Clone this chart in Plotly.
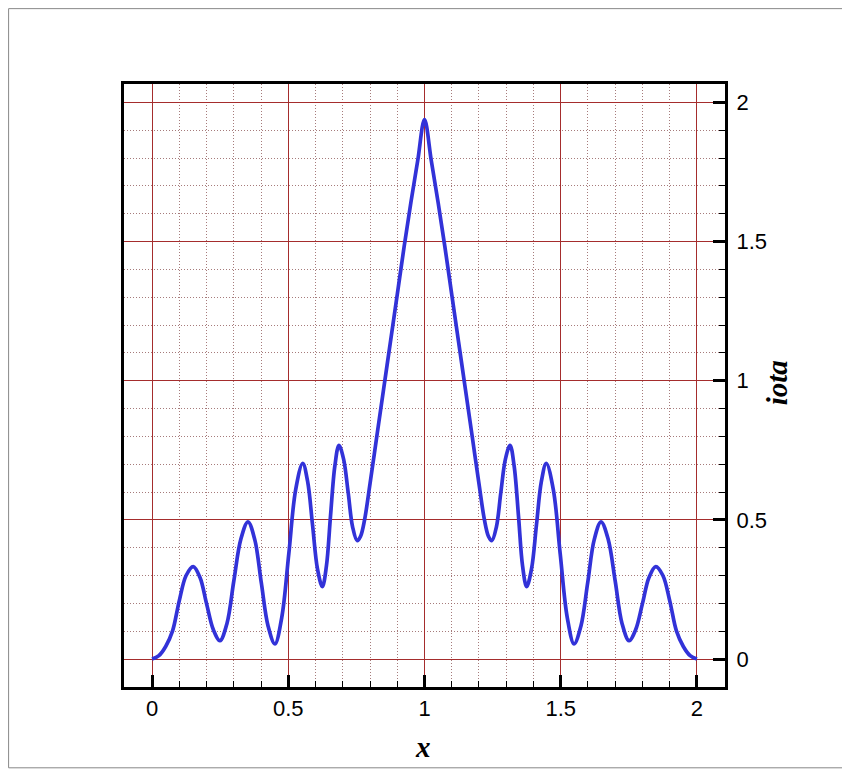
import plotly.graph_objects as go

# curve (x, iota)
x_vals = [
    0.0, 0.025, 0.05, 0.075, 0.1, 0.125, 0.151, 0.176, 0.2, 0.225, 0.249, 0.275, 0.3,
    0.326, 0.352, 0.377, 0.401, 0.426, 0.451, 0.476, 0.502, 0.527, 0.553, 0.571, 0.589,
    0.607, 0.625, 0.64, 0.655, 0.671, 0.686, 0.703, 0.72, 0.736, 0.753, 0.765, 0.78,
    0.8, 0.825, 0.85, 0.875, 0.9, 0.925, 0.95, 0.975, 1.0,
    1.025, 1.05, 1.075, 1.1, 1.125, 1.15, 1.175, 1.2, 1.22, 1.235, 1.247, 1.264, 1.28,
    1.297, 1.314, 1.329, 1.345, 1.36, 1.375, 1.393, 1.411, 1.429, 1.447, 1.473, 1.498,
    1.524, 1.549, 1.574, 1.599, 1.623, 1.648, 1.674, 1.7, 1.725, 1.751, 1.775, 1.8,
    1.824, 1.849, 1.875, 1.9, 1.925, 1.95, 1.975, 2.0,
]
iota_vals = [
    0.0, 0.012, 0.045, 0.10, 0.21, 0.30, 0.332, 0.293, 0.199, 0.105, 0.066, 0.128, 0.28,
    0.431, 0.493, 0.429, 0.274, 0.118, 0.054, 0.149, 0.379, 0.608, 0.703, 0.638, 0.482,
    0.325, 0.26, 0.334, 0.514, 0.694, 0.768, 0.718, 0.597, 0.475, 0.425, 0.44, 0.50,
    0.63, 0.80, 0.97, 1.14, 1.31, 1.48, 1.64, 1.79, 1.938,
    1.79, 1.64, 1.48, 1.31, 1.14, 0.97, 0.80, 0.63, 0.50, 0.44, 0.425, 0.475, 0.597,
    0.718, 0.768, 0.694, 0.514, 0.334, 0.26, 0.325, 0.482, 0.638, 0.703, 0.608, 0.379,
    0.149, 0.054, 0.118, 0.274, 0.429, 0.493, 0.431, 0.28, 0.128, 0.066, 0.105, 0.199,
    0.293, 0.332, 0.30, 0.21, 0.10, 0.045, 0.012, 0.0,
]

tick_vals = [0, 0.5, 1, 1.5, 2]
tick_text = ["0", "0.5", "1", "1.5", "2"]

major_grid = "rgb(165,45,45)"
minor_grid = "rgba(150,100,100,0.85)"
tick_font = dict(family="Liberation Sans, Arial, sans-serif", size=22, color="black")
title_font = dict(family="Liberation Serif, Times New Roman, serif", size=29, color="black")

fig = go.Figure()
fig.add_trace(
    go.Scatter(
        x=x_vals,
        y=iota_vals,
        mode="lines",
        line=dict(color="#3232d8", width=3.7, shape="spline", smoothing=1),
        showlegend=False,
    )
)

axis_common = dict(
    tickvals=tick_vals,
    ticktext=tick_text,
    tickfont=tick_font,
    showline=True,
    linecolor="black",
    linewidth=3,
    mirror=True,
    ticks="inside",
    ticklen=12,
    tickwidth=3,
    tickcolor="black",
    showgrid=True,
    gridcolor=major_grid,
    gridwidth=1.2,
    zeroline=False,
    minor=dict(
        dtick=0.1,
        ticks="inside",
        ticklen=6,
        tickwidth=1.3,
        tickcolor="black",
        showgrid=True,
        gridcolor=minor_grid,
        gridwidth=1,
        griddash="1px,2px",
    ),
)

fig.update_xaxes(range=[-0.103, 2.103], ticklabelstandoff=0, **axis_common)
fig.update_yaxes(range=[-0.1005, 2.066], side="right", ticklabelstandoff=4, **axis_common)

# page body adds 8px on top/left, so the figure is 8px smaller than the window
fig.update_layout(
    width=842,
    height=763,
    margin=dict(l=116, r=125, t=76, b=84),
    paper_bgcolor="white",
    plot_bgcolor="white",
    annotations=[
        dict(
            text="<b><i>x</i></b>", xref="paper", yref="paper", x=0.497, y=-0.1,
            showarrow=False, font=title_font, xanchor="center", yanchor="middle",
        ),
        dict(
            text="<b><i>iota</i></b>", xref="paper", yref="paper", x=1.088, y=0.505,
            showarrow=False, font=title_font, textangle=-90,
            xanchor="center", yanchor="middle",
        ),
    ],
    shapes=[
        dict(
            type="rect", xref="paper", yref="paper",
            x0=-0.192, x1=1.206, y0=-0.134, y1=1.125,
            line=dict(color="#888888", width=1),
        )
    ],
)

fig.write_html("out.html")
